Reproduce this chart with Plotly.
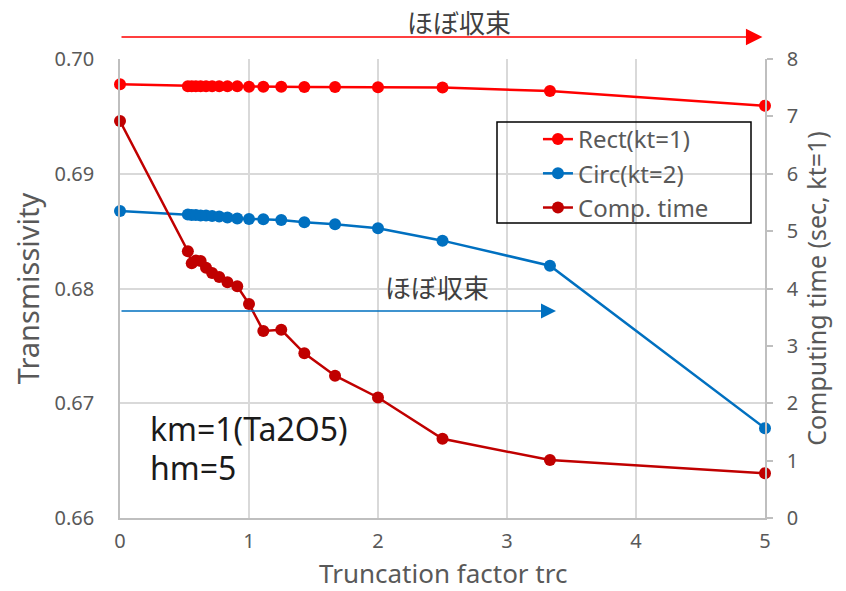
import plotly.graph_objects as go

# ---- data ----
trc = [0, 0.526, 0.556, 0.588, 0.625, 0.667, 0.714, 0.769, 0.833, 0.909,
       1.0, 1.111, 1.25, 1.429, 1.667, 2.0, 2.5, 3.333, 5.0]
rect_T = [0.69780, 0.69762, 0.69762, 0.69762, 0.69762, 0.69762, 0.69762, 0.69762, 0.69762, 0.69762,
          0.69759, 0.69759, 0.69758, 0.69755, 0.69755, 0.69754, 0.69752, 0.69721, 0.69593]
circ_T = [0.68675, 0.68645, 0.68641, 0.68641, 0.68636, 0.68636, 0.68632, 0.68627, 0.68619, 0.68610,
          0.68606, 0.68603, 0.68597, 0.68578, 0.68560, 0.68525, 0.68417, 0.68199, 0.66782]
comp_time = [6.92, 4.65, 4.44, 4.49, 4.48, 4.36, 4.27, 4.20, 4.11, 4.04,
             3.73, 3.26, 3.28, 2.87, 2.48, 2.10, 1.38, 1.01, 0.78]

names = ["Rect(kt=1)", "Circ(kt=2)", "Comp. time"]
colors = ["#ff0000", "#0070c0", "#c00000"]

FONT = "Noto Sans, Noto Sans CJK JP, sans-serif"
GRAY = "#595959"

fig = go.Figure()
fig.add_trace(go.Scatter(x=trc, y=rect_T, name=names[0], mode="lines+markers",
                         line=dict(color=colors[0], width=2.5), marker=dict(size=12, color=colors[0]),
                         legendgroup="a", cliponaxis=False))
fig.add_trace(go.Scatter(x=trc, y=circ_T, name=names[1], mode="lines+markers",
                         line=dict(color=colors[1], width=2.5), marker=dict(size=12, color=colors[1]),
                         legendgroup="b", cliponaxis=False))
fig.add_trace(go.Scatter(x=trc, y=comp_time, name=names[2], mode="lines+markers", yaxis="y2",
                         line=dict(color=colors[2], width=2.5), marker=dict(size=12, color=colors[2]),
                         legendgroup="c", cliponaxis=False))

fig.update_layout(
    width=846, height=591,
    margin=dict(l=120, r=81, t=59, b=73, autoexpand=False),
    paper_bgcolor="white", plot_bgcolor="white",
    font=dict(family=FONT, color=GRAY),
    showlegend=True,
    legend=dict(x=0.648, y=0.8736, xanchor="left", yanchor="top",
                bgcolor="rgba(0,0,0,0)", borderwidth=0,
                font=dict(size=24, color=GRAY), tracegroupgap=0),
    xaxis=dict(range=[0, 5], dtick=1, showgrid=True, gridcolor="#d9d9d9", gridwidth=1.5,
               showline=True, linecolor="#bfbfbf", linewidth=1.5, zeroline=False, automargin=False,
               tickfont=dict(size=20, color=GRAY), ticks="", ticklabelstandoff=4),
    yaxis=dict(range=[0.66, 0.70], dtick=0.01, tickformat=".2f", showgrid=True,
               gridcolor="#d9d9d9", gridwidth=1.5, showline=True, linecolor="#bfbfbf",
               linewidth=1.5, zeroline=False, ticks="", ticklabelstandoff=20, automargin=False,
               tickfont=dict(size=20, color=GRAY),
               title=dict(text="Transmissivity", font=dict(size=29, color=GRAY), standoff=6)),
    yaxis2=dict(range=[0, 8], dtick=1, overlaying="y", side="right", showgrid=False,
                showline=True, linecolor="#bfbfbf", linewidth=1.5, zeroline=False, automargin=False,
                ticks="outside", ticklen=6, tickcolor="#bfbfbf", tickwidth=1.5,
                ticklabelstandoff=10, tickfont=dict(size=20, color=GRAY),
                title=dict(text="Computing time (sec, kt=1)", font=dict(size=25, color=GRAY), standoff=8)),
)

# x-axis title (placed as annotation for exact vertical position)
fig.add_annotation(x=0.5, y=(518 - 573) / 459, xref="paper", yref="paper",
                   xanchor="center", yanchor="middle", showarrow=False,
                   text="Truncation factor trc", font=dict(size=26, color=GRAY))

# legend frame
fig.add_shape(type="rect", xref="paper", yref="paper",
              x0=(497 - 120) / 645, x1=(751 - 120) / 645,
              y0=(518 - 223) / 459, y1=(518 - 122) / 459,
              line=dict(color="black", width=1.5), fillcolor="rgba(0,0,0,0)")

# arrows
fig.add_annotation(x=4.98, y=(518 - 37) / 459, xref="x", yref="paper",
                   ax=0, ay=0, axref="x", ayref="pixel", text="", showarrow=True,
                   arrowhead=2, arrowsize=2.2, arrowwidth=1.5, arrowcolor="#ff0000")
fig.add_annotation(x=(459 - 120) / 645, y=(518 - 23) / 459, xref="paper", yref="paper",
                   xanchor="center", yanchor="middle",
                   text="ほぼ収束", showarrow=False, font=dict(size=26, color="#404040"))
fig.add_annotation(x=3.38, y=0.67804, xref="x", yref="y",
                   ax=0, ay=0.67804, axref="x", ayref="y", text="", showarrow=True,
                   arrowhead=2, arrowsize=2.0, arrowwidth=1.5, arrowcolor="#0070c0")
fig.add_annotation(x=2.46, y=0.68004, xref="x", yref="y", xanchor="center", yanchor="middle",
                   text="ほぼ収束", showarrow=False, font=dict(size=26, color="#404040"))

# text notes
fig.add_annotation(x=0.217, y=0.66784, xref="x", yref="y", xanchor="left", yanchor="middle",
                   text="km=1(Ta2O5)", showarrow=False, font=dict(size=32, color="#1a1a1a"))
fig.add_annotation(x=0.217, y=0.66436, xref="x", yref="y", xanchor="left", yanchor="middle",
                   text="hm=5", showarrow=False, font=dict(size=32, color="#1a1a1a"))

fig.write_html("out.html")
